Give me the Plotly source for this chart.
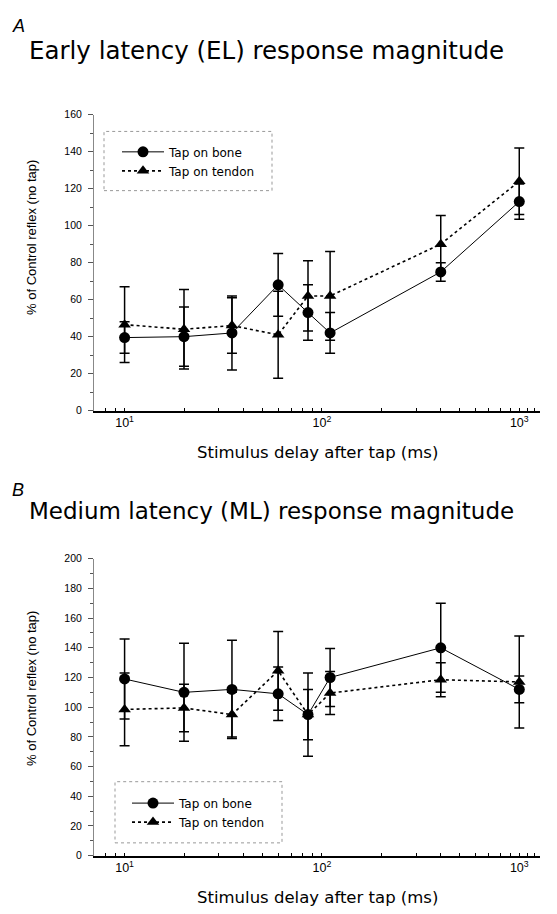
import plotly.graph_objects as go

# ---------------- data ----------------
delay_ms = [10, 20, 35, 60, 85, 110, 400, 1000]

el_bone = [39.5, 40, 42, 68, 53, 42, 75, 113]
el_bone_err = [8.5, 16, 20, 17, 15, 11, 5, 9.5]
el_tendon = [46.5, 44, 46, 41, 62, 62, 90, 124]
el_tendon_err = [20.5, 21.5, 15, 23.5, 19, 24, 15.5, 18]

ml_bone = [119, 110, 112, 109, 95, 120, 140, 112]
ml_bone_err = [27, 33, 33, 18, 28, 19.5, 30, 9]
ml_tendon = [98.5, 99.5, 95, 124.5, 95, 109.5, 118.5, 117]
ml_tendon_err = [24.5, 16, 15, 26.5, 17, 14.5, 11.5, 31]

series_names = ["Tap on bone", "Tap on tendon"]
x_tickvals = [8, 9, 10, 20, 30, 40, 50, 60, 70, 80, 90, 100, 200, 300, 400, 500, 600, 700,
              800, 900, 1000, 1100, 1200]
x_ticktext = ["10<sup>1</sup>" if v == 10 else "10<sup>2</sup>" if v == 100 else
              "10<sup>3</sup>" if v == 1000 else "" for v in x_tickvals]

# ---------------- layout helpers ----------------
# the page body has an 8px margin, so the figure starts at (8, 8) of the window
OFF = 8
W, H = 557 - OFF, 914 - OFF
FONT = "Liberation Sans, Arial, Helvetica, sans-serif"
WIDE = "DejaVu Sans, Verdana, sans-serif"


def px(x):
    return (x - OFF) / W


def py(y):
    return 1 - (y - OFF) / H


fig = go.Figure()


def add_series(xa, ya, leg, yv, ye, name, dash, symbol):
    fig.add_trace(go.Scatter(
        x=delay_ms, y=yv, xaxis=xa, yaxis=ya, legend=leg, name=name,
        mode="lines+markers",
        line=dict(color="black", width=1 if dash == "solid" else 1.6, dash=dash),
        marker=dict(symbol=symbol, size=11, color="black"),
        error_y=dict(type="data", array=ye, visible=True, color="black",
                     thickness=1.5, width=5),
        showlegend=True,
    ))


add_series("x", "y", "legend", el_bone, el_bone_err, series_names[0], "solid", "circle")
add_series("x", "y", "legend", el_tendon, el_tendon_err, series_names[1], "dot", "triangle-up")
add_series("x2", "y2", "legend2", ml_bone, ml_bone_err, series_names[0], "solid", "circle")
add_series("x2", "y2", "legend2", ml_tendon, ml_tendon_err, series_names[1], "dot", "triangle-up")

xdom = [px(94), px(540)]
xaxis_common = dict(
    type="log", range=[0.845, 3.105], domain=xdom,
    tickmode="array", tickvals=x_tickvals, ticktext=x_ticktext,
    ticks="inside", ticklen=3, tickcolor="black", tickwidth=1,
    showline=True, linecolor="black", linewidth=1.5,
    showgrid=False, zeroline=False,
    tickfont=dict(family=FONT, size=12.5, color="black"),
)
yaxis_common = dict(
    ticks="outside", ticklen=5, tickcolor="#555", tickwidth=1,
    showline=True, linecolor="#888", linewidth=1,
    showgrid=False, zeroline=False, dtick=20, ticklabelstandoff=4,
    minor=dict(dtick=10, ticks="outside", ticklen=3, tickcolor="#555", showgrid=False),
    tickfont=dict(family=FONT, size=10.5, color="black"),
)

legend_common = dict(xanchor="left", yanchor="top", bgcolor="rgba(0,0,0,0)",
                     borderwidth=0, itemwidth=42, tracegroupgap=0,
                     font=dict(family=WIDE, size=12, color="black"))

fig.update_layout(
    width=W, height=H,
    margin=dict(l=0, r=0, t=0, b=0),
    paper_bgcolor="white", plot_bgcolor="white",
    font=dict(family=FONT, color="black"),
    xaxis=dict(**xaxis_common, anchor="y"),
    yaxis=dict(**yaxis_common, range=[0, 160], domain=[py(410), py(110)], anchor="x"),
    xaxis2=dict(**xaxis_common, anchor="y2"),
    yaxis2=dict(**yaxis_common, range=[0, 200], domain=[py(861), py(560)], anchor="x2"),
    legend=dict(**legend_common, x=px(117), y=py(133)),
    legend2=dict(**legend_common, x=px(127), y=py(793)),
    showlegend=True,
)

# dotted legend frames
for (x0, y0, x1, y1) in [(104, 127, 272, 187), (115, 786, 282, 848)]:
    fig.add_shape(type="rect", xref="paper", yref="paper",
                  x0=px(x0), x1=px(x1), y0=py(y1), y1=py(y0),
                  line=dict(color="#999", width=1, dash="dot"), layer="below")

annotations = [
    dict(text="<i>A</i>", x=px(10), y=py(20), size=18, fam=FONT),
    dict(text="Early latency (EL) response magnitude", x=px(27), y=py(45), size=24.5, fam=WIDE),
    dict(text="<i>B</i>", x=px(10), y=py(490), size=18, fam=FONT),
    dict(text="Medium latency (ML) response magnitude", x=px(27), y=py(512), size=23, fam=WIDE),
]
for a in annotations:
    fig.add_annotation(text=a["text"], x=a["x"], y=a["y"], xref="paper", yref="paper",
                       xanchor="left", yanchor="middle", showarrow=False,
                       font=dict(family=a["fam"], size=a["size"], color="black"))

for (yc, ytitle) in [(235, 452), (692, 903)]:
    fig.add_annotation(text="% of Control reflex (no tap)", x=px(32), y=py(yc),
                       xref="paper", yref="paper", textangle=-90, showarrow=False,
                       xanchor="center", yanchor="middle",
                       font=dict(family=FONT, size=13, color="black"))
    fig.add_annotation(text="Stimulus delay after tap (ms)", x=px(317), y=py(ytitle),
                       xref="paper", yref="paper", showarrow=False,
                       xanchor="center", yanchor="middle",
                       font=dict(family=WIDE, size=16.5, color="black"))

fig.write_html("out.html")
